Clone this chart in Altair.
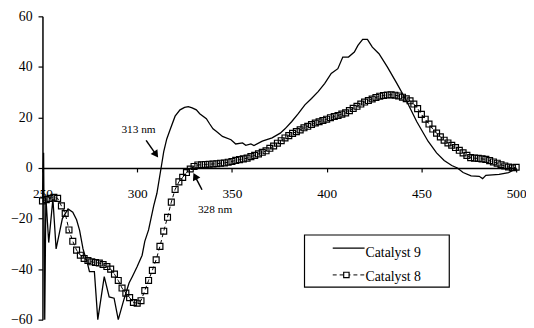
import altair as alt
import pandas as pd

series = ["Catalyst 9", "Catalyst 8"]

wl9 = [250, 250.6, 251.2, 251.8, 253.3, 255.5, 257.2, 260.5, 263.5, 266,
       268, 269.6, 271.4, 274, 274.8, 277.4, 279.2, 282.6, 285.2, 287.8,
       290, 293, 295.7, 297.4, 300, 302.6, 304, 306, 308.7, 310.4,
       312.6, 314, 315.6, 317.3, 320, 322.6, 325, 327, 329, 331.2,
       333, 336.5, 338.2, 340, 341.7, 345, 349.5, 352, 355.6, 357.3,
       360, 361.6, 366, 371.2, 375.5, 378, 381.6, 385, 388.5, 392,
       395.5, 399, 402.4, 405.9, 408.5, 411.5, 414.6, 416.5, 419, 421.5,
       424.1, 427.6, 432, 437.1, 442.3, 447.5, 453.5, 458, 462, 466,
       469, 472, 476.2, 480.5, 482.3, 484, 491, 496, 500]
ab9 = [-12, 6, -60, -11.6, -29.5, -12.3, -32, -20, -16.2, -17.5,
       -20.5, -24.7, -32, -38.5, -41, -41, -60, -43, -51, -51.5,
       -60, -52, -45.5, -43, -39, -34.5, -29, -24.5, -15, -10,
       0, 6.5, 11.5, 15, 20.5, 23, 24, 24.3, 23.8, 23,
       21.5, 19.5, 17.5, 15.5, 14.5, 12.5, 11.2, 9.5, 9.9, 9,
       9.5, 8.9, 10.6, 11.9, 13.8, 15.5, 18.4, 21.5, 25, 27.5,
       30.2, 33.5, 37.4, 39.3, 43.9, 43.9, 45.9, 48.5, 50.9, 50.9,
       47.8, 45.2, 40, 33.4, 26.3, 18.4, 10.6, 6, 3, 1,
       0, -1.8, -3.1, -3.3, -4.2, -2.9, -2.5, -1.8, -0.3]

ab8 = [-13, -12.5, -12, -11.6, -12, -15, -18, -24.5, -29, -32.5,
       -34.5, -35.8, -36.6, -37.1, -37.4, -37.6, -38.2, -39, -40, -42,
       -44.5, -47.5, -49.5, -51.3, -53.2, -53.5, -52.5, -48.5, -44.5, -40.5,
       -36.3, -31, -25, -19.5, -13.5, -8.5, -5.5, -3.7, -1.8, -0.4,
       0.6, 1.2, 1.3, 1.4, 1.5, 1.6, 1.7, 1.9, 2.0, 2.3,
       2.6, 3.0, 3.3, 3.6, 3.9, 4.5, 5.0, 5.6, 6.2, 6.8,
       7.8, 8.7, 9.8, 10.8, 11.9, 12.8, 13.7, 14.4, 15.1, 15.9,
       16.5, 17.2, 17.8, 18.3, 18.8, 19.3, 19.9, 20.4, 20.8, 21.3,
       21.8, 22.7, 23.6, 24.4, 25.3, 26.1, 26.7, 27.3, 27.9, 28.4,
       28.7, 28.9, 29.0, 28.8, 28.5, 28.0, 27.4, 26.6, 25.3, 23.5,
       21.2, 19.3, 17.4, 15.4, 13.8, 12.3, 11.0, 9.9, 9.0, 8.1,
       7.0, 6.0, 5.0, 4.1, 3.9, 3.8, 3.6, 3.4, 2.9, 2.4,
       1.9, 1.3, 0.8, 0.4, 0.1, 0.3]
wl8 = list(range(250, 250 + 2 * len(ab8), 2))

x_ticks = [250, 300, 350, 400, 450, 500]
y_ticks = [-60, -40, -20, 0, 20, 40, 60]
notes = ["313 nm", "328 nm"]

FONT = "Liberation Serif"

df9 = pd.DataFrame({"wl": wl9, "ab": ab9})
df8 = pd.DataFrame({"wl": wl8, "ab": ab8})

xs = alt.Scale(domain=[250, 500], nice=False, zero=False)
ys = alt.Scale(domain=[-60, 60], nice=False, zero=False)

xaxis = alt.Axis(
    values=x_ticks, orient="bottom", offset=-154, title=None, grid=False,
    domainColor="black", domainWidth=1.5, tickColor="black", tickWidth=1.2,
    tickSize=4, labelFont=FONT, labelFontSize=13.5, labelColor="black",
    labelPadding=15, labelFlush=False, labelOverlap=False)
yaxis = alt.Axis(
    values=y_ticks, title=None, grid=False,
    domainColor="black", domainWidth=1.5, tickColor="black", tickWidth=1.2,
    tickSize=4.5, labelFont=FONT, labelFontSize=14, labelColor="black",
    labelPadding=6, labelFlush=False, labelOverlap=False)
X = alt.X("wl:Q", scale=xs, axis=xaxis)
Y = alt.Y("ab:Q", scale=ys, axis=yaxis)

line9 = alt.Chart(df9).mark_line(color="black", strokeWidth=1.3).encode(x=X, y=Y)
line8 = alt.Chart(df8).mark_line(color="black", strokeWidth=1, strokeDash=[4, 3]).encode(x=X, y=Y)
pts8 = alt.Chart(df8).mark_point(shape="square", size=36, filled=False,
                                 color="black", strokeWidth=1.2, opacity=1).encode(x=X, y=Y)

# annotations
ann = pd.DataFrame({"wl": [300.7, 341.1], "ab": [15.2, -16.8], "t": notes})
shafts = pd.DataFrame({"wl": [304.7, 334.2], "ab": [10.9, -8.6],
                       "wl2": [309.6, 330.8], "ab2": [5.7, -3.7]})
heads = pd.DataFrame({"wl": [309.6, 330.8], "ab": [5.7, -3.7], "ang": [145, 333]})

ann_text = alt.Chart(ann).mark_text(font=FONT, fontSize=11.5, color="black").encode(
    x=X, y=Y, text="t:N")
ann_shaft = alt.Chart(shafts).mark_rule(color="black", strokeWidth=1.5).encode(
    x=X, y=Y, x2="wl2:Q", y2="ab2:Q")
ann_head = alt.Chart(heads).mark_point(shape="triangle", filled=True, size=70,
                                       color="black", opacity=1).encode(
    x=X, y=Y, angle=alt.Angle("ang:Q", scale=None))

# legend (drawn in data units)
legbox = pd.DataFrame({"wl": [388.3], "wl2": [464.7], "ab": [-26.5], "ab2": [-47.1]})
leg1 = pd.DataFrame({"wl": [403.2], "wl2": [420.0], "ab": [-31.7], "ab2": [-31.7]})
leg2 = pd.DataFrame({"wl": [403.2], "wl2": [420.0], "ab": [-42.3], "ab2": [-42.3]})
legpt = pd.DataFrame({"wl": [410.4], "ab": [-42.3]})
legtxt = pd.DataFrame({"wl": [420.5, 420.5], "ab": [-35.1, -44.9], "t": series})

box = alt.Chart(legbox).mark_rect(fill="white", stroke="black", strokeWidth=1.2).encode(
    x=X, y=Y, x2="wl2:Q", y2="ab2:Q")
l1 = alt.Chart(leg1).mark_rule(color="black", strokeWidth=1.3).encode(
    x=X, y=Y, x2="wl2:Q", y2="ab2:Q")
l2 = alt.Chart(leg2).mark_rule(color="black", strokeWidth=1, strokeDash=[4, 3]).encode(
    x=X, y=Y, x2="wl2:Q", y2="ab2:Q")
lp = alt.Chart(legpt).mark_point(shape="square", size=30, filled=True, fill="white",
                                 stroke="black", strokeWidth=1.2, opacity=1).encode(x=X, y=Y)
lt = alt.Chart(legtxt).mark_text(font=FONT, fontSize=14, color="black", align="left",
                                 baseline="alphabetic").encode(x=X, y=Y, text="t:N")

chart = alt.layer(
    line9, line8, pts8, ann_shaft, ann_head, ann_text, box, l1, l2, lp, lt
).properties(
    width=481, height=308,
    autosize=alt.AutoSizeParams(type="none"),
    padding={"left": 35, "top": 6, "right": 10, "bottom": 6},
    background="white",
).configure_view(stroke=None)

chart.save("out.html", embed_options={"renderer": "svg", "actions": False})
